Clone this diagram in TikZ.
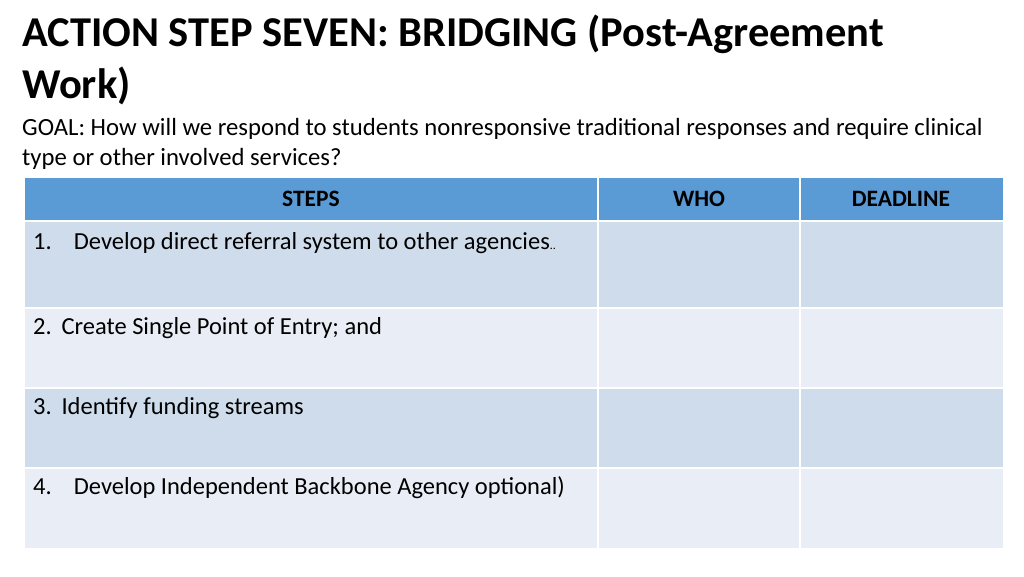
\documentclass[tikz,border=0pt]{standalone}
\usepackage{fontspec}
\setmainfont{Carlito}
\definecolor{hdr}{HTML}{5B9BD5}
\definecolor{rowa}{HTML}{CFDCEC}
\definecolor{rowb}{HTML}{E9EDF5}
\begin{document}
\begin{tikzpicture}[x=1pt,y=-1pt,
  cell/.style={draw=white,line width=1.5pt},
  txt/.style={anchor=west,inner sep=0pt,font=\fontsize{24.5}{28}\selectfont},
  hd/.style={inner sep=0pt,font=\bfseries\fontsize{23.5}{28}\selectfont}]
\useasboundingbox (0,0) rectangle (1024,576);
\node[anchor=base west,inner sep=0pt,font=\bfseries\fontsize{42.5}{50}\selectfont] (t1) at (22,46) {ACTION STEP SEVEN: BRIDGING (Post-Agreement};
\node[anchor=base west,inner sep=0pt,font=\bfseries\fontsize{42.5}{50}\selectfont] (t2) at (22,98) {Work)};
\node[anchor=base west,inner sep=0pt,font=\fontsize{24.7}{28}\selectfont] (g1) at (22,135) {GOAL: How will we respond to students nonresponsive traditional responses and require clinical};
\node[anchor=base west,inner sep=0pt,font=\fontsize{24.7}{28}\selectfont] (g2) at (22,165) {type or other involved services?};
% header
\fill[hdr] (25,178) rectangle (1003,221);
\draw[cell] (598,178) -- (598,221) (800,178) -- (800,221);
\node[hd] (h1) at (311,199) {STEPS};
\node[hd] (h2) at (699,199) {WHO};
\node[hd] (h3) at (901,199) {DEADLINE};
% rows
\foreach \a/\b/\c in {221/308/rowa,308/388/rowb,388/468/rowa,468/548/rowb}{
  \fill[\c] (25,\a) rectangle (1003,\b);
  \draw[cell] (25,\a) -- (1003,\a) (598,\a) -- (598,\b) (800,\a) -- (800,\b);
}
\node[txt] (r1) at (33,243) {1.\hspace{0.9em}Develop direct referral system to other agencies{\fontsize{12}{14}\selectfont..}};
\node[txt] (r2) at (33,328) {2.\hspace{0.4em}Create Single Point of Entry; and};
\node[txt] (r3) at (33,408) {3.\hspace{0.4em}Identify funding streams};
\node[txt] (r4) at (33,488) {4.\hspace{0.9em}Develop Independent Backbone Agency optional)};
\end{tikzpicture}
\end{document}
